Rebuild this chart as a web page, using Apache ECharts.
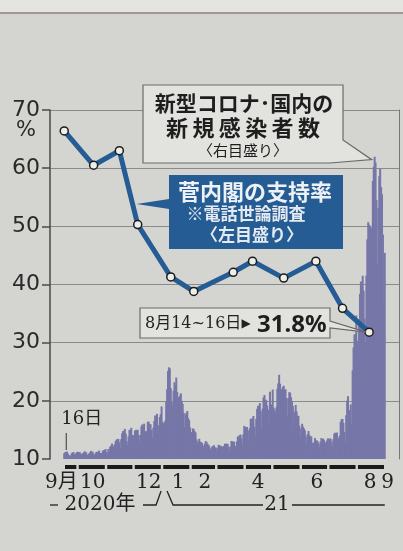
<!DOCTYPE html>
<html><head><meta charset="utf-8">
<script src="https://cdn.jsdelivr.net/npm/echarts@6/dist/echarts.min.js"></script>
<style>html,body{margin:0;padding:0;background:#d4d5d0;}#c{width:403px;height:551px;}</style>
</head><body><div id="c"></div>
<script>
// ---- data ----
const axisStart = '2020-09-01';
const axisDays = 380;
const casesStart = '2020-09-16';
const pollDates = ['2020-09-16','2020-10-18','2020-11-15','2020-12-05','2021-01-10','2021-02-04','2021-03-19','2021-04-09','2021-05-13','2021-06-17','2021-07-16','2021-08-14'];
const pollValues = [66.4,60.5,63.0,50.3,41.3,38.8,42.1,44.0,41.1,44.0,35.9,31.8];
const cases2020Sep = [500,580,600,640,460,340,300,200,480,550,600,420,300,520,600];
const cases2020Oct = [620,570,580,440,300,500,520,650,630,550,370,280,470,560,700,620,620,420,320,480,600,620,610,720,520,360,520,700,770,760,860];
const cases2020Nov = [600,480,850,620,1050,1140,1330,1130,940,1280,1550,1660,1700,1730,1440,950,1700,2200,2390,2420,2590,2170,1520,1230,1940,2500,2520,2680,2060,1430];
const cases2020Dec = [2050,2430,2510,2440,2510,2060,1540,2070,2800,2970,2780,3040,2380,1680,2420,3200,3210,2990,2990,2500,1800,2690,3270,3740,3560,3880,2900,2390,3610,3850,4520];
const cases2021Jan = [3180,3050,3100,3320,4900,6000,7570,7880,7790,6090,4870,4540,5870,6600,6300,7000,5760,4920,5320,5450,5640,4990,4720,3990,2720,3850,3960,4130,3520,3340,2710];
const cases2021Feb = [1790,2320,2630,2580,2380,2280,1690,1270,1520,1740,1490,1460,1380,1150,760,1310,1530,1480,1310,1220,1080,740,910,1070,1080,1190,990,990];
const cases2021Mar = [670,930,1220,1170,1150,1100,1060,600,1130,1320,1290,1320,1290,1030,760,1080,1550,1510,1470,1490,1120,820,1500,1930,1940,2040,2100,1780,1240,2110,2850];
const cases2021Apr = [2600,2760,2750,2460,1570,2650,3450,3460,3490,3700,2780,1940,3450,4310,4570,4530,4800,4090,2700,4330,5290,5500,5110,5050,4600,2830,4250,5790,4680,4680];
const cases2021May = [5970,4410,4220,3970,4440,6040,6500,7240,6470,4210,6000,6200,6300,5900,6000,5240,3680,5230,5740,5700,5300,4960,4540,2620,4060,4650,4090,3730,3700,2860,1830];
const cases2021Jun = [2620,3030,2780,2640,2480,1950,1360,2140,2410,2050,1940,1940,1390,940,1410,1800,1560,1600,1520,1300,1020,1480,1800,1720,1750,1620,1420,990,1570,1770];
const cases2021Jul = [1740,1750,1750,1480,1040,1700,2180,2260,2230,2270,1820,1190,2000,3190,3440,3440,3100,2330,1390,3760,5020,5400,4200,3570,4690,3000,7630,9580,10700,10740,12340];
const cases2021Aug = [10170,8390,12020,14200,15260,15160,15750,14470,12070,9980,15780,18880,20360,20150,19960,13300,19870,23900,25150,25990,25490,22270,16760,21570,24310,24980,23380,22750,19300,13640,17720];
const xLabelDates = ['2020-09-13','2020-10-17','2020-12-17','2021-01-18','2021-02-16','2021-04-15','2021-06-18','2021-08-15','2021-09-03'];
const xLabelTexts = ['9月','10','12','1','2','4','6','8','9'];
const leftMin = 10, leftMax = 70, leftStep = 10;
const rightMin = 0, rightMax = 30000;

// ---- build ----
const categories = [];
{
  const p = axisStart.split('-').map(Number);
  const d0 = Date.UTC(p[0], p[1]-1, p[2]);
  for (let i = 0; i < axisDays; i++) categories.push(new Date(d0 + i*86400000).toISOString().slice(0,10));
}
const casesAll = [].concat(cases2020Sep,cases2020Oct,cases2020Nov,cases2020Dec,cases2021Jan,cases2021Feb,cases2021Mar,cases2021Apr,cases2021May,cases2021Jun,cases2021Jul,cases2021Aug);
const off = categories.indexOf(casesStart);
const barData = categories.map((c,i) => (i >= off && i - off < casesAll.length) ? casesAll[i-off] : null);
const lastCaseDate = categories[off + casesAll.length - 1];

const chart = echarts.init(document.getElementById('c'), null, {renderer:'canvas'});
const serif = "'DejaVu Serif','Noto Sans CJK JP',serif";
const cjk = "'Noto Sans CJK JP',sans-serif";
const blue = '#255c94';
chart.setOption({
  backgroundColor: '#d4d5d0',
  animation: false,
  grid: {left: 50, right: 4, top: 110, bottom: 92},
  xAxis: {
    type: 'category', data: categories, boundaryGap: true,
    axisLine: {show: false}, axisTick: {show: false}, splitLine: {show: false},
    axisLabel: {
      interval: (i, v) => xLabelDates.indexOf(v) >= 0,
      formatter: v => xLabelTexts[xLabelDates.indexOf(v)],
      margin: 14, fontFamily: serif, fontSize: 20, color: '#222'
    }
  },
  yAxis: [
    {type: 'value', min: leftMin, max: leftMax, interval: leftStep, position: 'left',
     axisLine: {show: true, lineStyle: {color: '#4a4a4a', width: 1.5}},
     axisTick: {show: true, length: 8, lineStyle: {color: '#4a4a4a', width: 1.5}},
     axisLabel: {fontFamily: "'DejaVu Sans',sans-serif", fontSize: 22, color: '#2a2a2a', margin: 10},
     splitLine: {show: true, showMinLine: false, lineStyle: {color: '#8a8a88', width: 1}}},
    {type: 'value', min: rightMin, max: rightMax, interval: 5000, position: 'right',
     axisLine: {show: true, lineStyle: {color: '#777', width: 1}},
     axisTick: {show: false}, axisLabel: {show: false}, splitLine: {show: false}}
  ],
  series: [
    {type: 'bar', yAxisIndex: 1, data: barData, barWidth: 2, silent: true, z: 1,
     itemStyle: {color: '#7676a8'}},
    {type: 'line', yAxisIndex: 0, data: pollDates.map((d,i) => [d, pollValues[i]]), z: 5,
     showAllSymbol: true,
     lineStyle: {color: blue, width: 5}, symbol: 'circle', symbolSize: 8,
     itemStyle: {color: '#efefea', borderColor: '#1c1c1c', borderWidth: 1.5}}
  ]
});

// ---- annotations anchored to data ----
const P = (d, v, yi) => chart.convertToPixel({xAxisIndex: 0, yAxisIndex: yi || 0}, [d, v]);
const band = P(categories[1], 10)[0] - P(categories[0], 10)[0];
const baseY = P(casesStart, leftMin)[1];
const g = [];
// top rule
g.push({type:'rect', shape:{x:0,y:0,width:403,height:13}, style:{fill:'#e4e4e1'}, z:0});
g.push({type:'line', shape:{x1:0,y1:13,x2:403,y2:13}, style:{stroke:'#8a817a', lineWidth:1.5}});
// % unit
g.push({type:'text', x:26, y:131, style:{text:'%', fontFamily:"'DejaVu Sans',sans-serif", fontSize:21, fill:'#2a2a2a', align:'center', verticalAlign:'middle'}});
// month dashes
{
  const months = {};
  for (let i = off; i < categories.length && categories[i] <= lastCaseDate; i++) {
    const m = categories[i].slice(0,7);
    if (!months[m]) months[m] = [categories[i], categories[i]]; else months[m][1] = categories[i];
  }
  Object.keys(months).forEach(m => {
    const x1 = P(months[m][0], leftMin)[0] - band/2 + 1.2;
    const x2 = P(months[m][1], leftMin)[0] + band/2 - 1.2;
    g.push({type:'rect', shape:{x:x1, y:baseY+6, width:x2-x1, height:4}, style:{fill:'#1a1a1a'}});
  });
}
// 16日 marker
{
  const x = P(casesStart, leftMin)[0];
  g.push({type:'line', shape:{x1:x+2,y1:baseY-26,x2:x+2,y2:baseY-9}, style:{stroke:'#333', lineWidth:1}});
  g.push({type:'text', x:x-3, y:baseY-40, style:{text:'16日', fontFamily:serif, fontSize:18, fill:'#222', align:'left', verticalAlign:'middle'}});
}
// year brackets
{
  const yb = baseY + 46;
  const xJan = P('2021-01-01', leftMin)[0] - band/2;
  const xEnd = P(lastCaseDate, leftMin)[0];
  const ls = {stroke:'#222', lineWidth:1.3, fill:null};
  g.push({type:'line', shape:{x1:50,y1:yb,x2:58,y2:yb}, style:ls});
  g.push({type:'text', x:100, y:yb, style:{text:'2020年', fontFamily:serif, fontSize:20, fill:'#222', align:'center', verticalAlign:'middle'}});
  g.push({type:'polyline', shape:{points:[[143,yb],[xJan-6,yb],[xJan-1,yb-14]]}, style:ls});
  g.push({type:'polyline', shape:{points:[[xJan+5,yb-14],[xJan+11,yb],[263,yb]]}, style:ls});
  g.push({type:'text', x:277, y:yb, style:{text:'21', fontFamily:serif, fontSize:20, fill:'#222', align:'center', verticalAlign:'middle'}});
  g.push({type:'line', shape:{x1:292,y1:yb,x2:xEnd,y2:yb}, style:ls});
}
// box 1: cases legend
{
  let pk = 0; casesAll.forEach((v,i) => { if (v > casesAll[pk]) pk = i; });
  const tip = P(categories[off+pk], casesAll[pk], 1);
  const tx = tip[0]-3, ty = tip[1]+3;
  g.push({type:'polygon', shape:{points:[[143,85],[343,85],[343,140],[tx,ty],[330,163],[143,163]]},
    style:{fill:'#e2e2de', stroke:'#6a6a6a', lineWidth:1.2}});
  g.push({type:'text', x:244, y:103, style:{text:'新型コロナ･国内の', fontFamily:cjk, fontWeight:'bold', fontSize:21, fill:'#1e1e1e', align:'center', verticalAlign:'middle'}});
  g.push({type:'text', x:243, y:128, style:{text:'新\u2009規\u2009感\u2009染\u2009者\u2009数', fontFamily:cjk, fontWeight:'bold', fontSize:22, fill:'#1e1e1e', align:'center', verticalAlign:'middle'}});
  g.push({type:'text', x:243, y:150, style:{text:'〈右目盛り〉', fontFamily:cjk, fontSize:15, fill:'#1e1e1e', align:'center', verticalAlign:'middle'}});
}
// box 2: approval legend
{
  const a = P(pollDates[2], pollValues[2]), b = P(pollDates[3], pollValues[3]);
  const t = 0.72;
  const tx = a[0] + t*(b[0]-a[0]) + 4, ty = a[1] + t*(b[1]-a[1]);
  g.push({type:'polygon', shape:{points:[[169,175],[343,175],[343,249],[169,249],[169,ty+5],[tx,ty],[169,ty-5]]},
    style:{fill:blue}});
  g.push({type:'text', x:255, y:192, style:{text:'菅内閣の支持率', fontFamily:cjk, fontWeight:'bold', fontSize:22, fill:'#eef2f6', align:'center', verticalAlign:'middle'}});
  g.push({type:'text', x:246, y:214, style:{text:'※電話世論調査', fontFamily:cjk, fontWeight:'bold', fontSize:17, fill:'#e4eaf0', align:'center', verticalAlign:'middle'}});
  g.push({type:'text', x:252, y:235, style:{text:'〈左目盛り〉', fontFamily:cjk, fontWeight:'bold', fontSize:17, fill:'#e4eaf0', align:'center', verticalAlign:'middle'}});
}
// box 3: latest value
{
  const n = pollDates.length - 1;
  const tip = P(pollDates[n], pollValues[n]);
  g.push({type:'polygon', shape:{points:[[140,308],[330,308],[330,321],[tip[0]-3,tip[1]],[330,328],[330,338],[140,338]]},
    style:{fill:'#e2e2de', stroke:'#6a6a6a', lineWidth:1.2}});
  g.push({type:'text', x:145, y:324, style:{text:'8月14~16日', fontFamily:serif, fontSize:16, fill:'#222', align:'left', verticalAlign:'middle'}});
  g.push({type:'text', x:246, y:324, style:{text:'▶', fontFamily:"'DejaVu Sans',sans-serif", fontSize:12, fill:'#222', align:'center', verticalAlign:'middle'}});
  g.push({type:'text', x:257, y:325, style:{text: pollValues[n].toFixed(1) + '%', fontFamily:"'Noto Sans',sans-serif", fontWeight:'bold', fontSize:24, fill:'#1e1e1e', align:'left', verticalAlign:'middle'}});
}
chart.setOption({graphic: g.map(e => Object.assign({z: e.z === undefined ? 100 : e.z}, e))});
</script></body></html>
